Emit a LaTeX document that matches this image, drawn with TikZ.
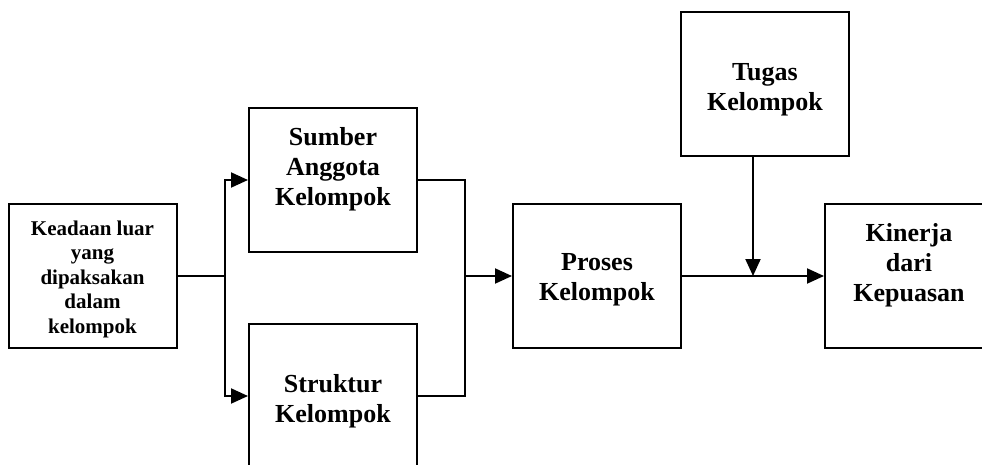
\documentclass[tikz,border=0pt]{standalone}
\usepackage{fontspec}
\setmainfont{Liberation Serif}
\usetikzlibrary{arrows.meta}
\begin{document}
\begin{tikzpicture}[x=1pt,y=-1pt,
  box/.style={draw,line width=2pt,minimum width=168pt,minimum height=144pt,inner sep=0pt},
  lbl/.style={align=center,inner sep=0pt,anchor=north,font=\fontsize{26pt}{30pt}\selectfont\bfseries},
  smalllbl/.style={align=center,inner sep=0pt,anchor=north,font=\fontsize{21pt}{24.4pt}\selectfont\bfseries},
  line/.style={line width=2pt},
  arr/.style={line width=2pt,-{Triangle[length=17pt,width=15pt]}}]
\clip (0,0) rectangle (982,465);
\fill[white] (0,0) rectangle (982,465);
% boxes
\node[box] (luar) at (92.5,276) {};
\node[box] (sumber) at (333,180) {};
\node[box] (struktur) at (333,396) {};
\node[box] (proses) at (597,276) {};
\node[box] (tugas) at (765,84) {};
\node[box] (kinerja) at (909,276) {};
% texts
\node[smalllbl] (luarT) at (92.5,220.8) {Keadaan luar\\yang\\dipaksakan\\dalam\\kelompok};
\node[lbl] (sumberT) at (333,127.4) {Sumber\\Anggota\\Kelompok};
\node[lbl] (strukturT) at (333,374.1) {Struktur\\Kelompok};
\node[lbl] (prosesT) at (597,252.8) {Proses\\Kelompok};
\node[lbl] (tugasT) at (765,62.8) {Tugas\\Kelompok};
\node[lbl] (kinerjaT) at (909,223.7) {Kinerja\\dari\\Kepuasan};
% junctions
\coordinate (j1) at (225,276);
\coordinate (j2) at (465,276);
\coordinate (meet) at (753,276);
% connectors
\draw[line] (luar.east) -- (j1);
\draw[arr] (j1) |- (sumber.west);
\draw[arr] (j1) |- (struktur.west);
\draw[line] (sumber.east) -| (j2);
\draw[line] (struktur.east) -| (j2);
\draw[arr] (j2) -- (proses.west);
\draw[arr] (proses.east) -- (kinerja.west);
\draw[arr] (meet |- tugas.south) -- (meet);
\end{tikzpicture}
\end{document}
